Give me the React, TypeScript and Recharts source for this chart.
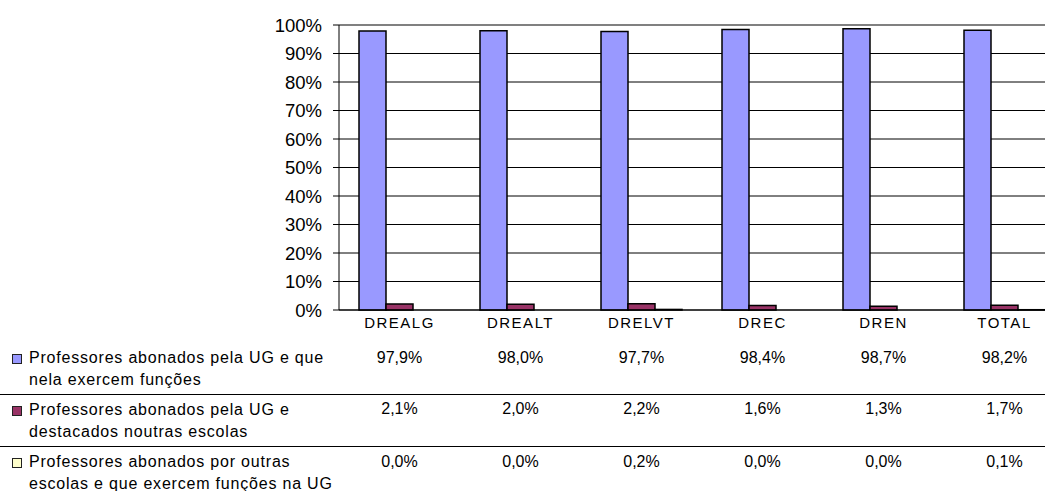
import { Bar, BarChart, CartesianGrid, ReferenceLine, XAxis, YAxis } from 'recharts';

const categories = ['DREALG', 'DREALT', 'DRELVT', 'DREC', 'DREN', 'TOTAL'];
const abonadosExercem = [97.9, 98.0, 97.7, 98.4, 98.7, 98.2];
const abonadosDestacados = [2.1, 2.0, 2.2, 1.6, 1.3, 1.7];
const abonadosOutras = [0.0, 0.0, 0.2, 0.0, 0.0, 0.1];
const yTicks = [0, 10, 20, 30, 40, 50, 60, 70, 80, 90, 100];

const seriesLabels = [
 'Professores abonados pela UG e que\nnela exercem funções',
 'Professores abonados pela UG e\ndestacados noutras escolas',
 'Professores abonados por outras\nescolas e que exercem funções na UG',
];
const seriesColors = ['#9999ff', '#993366', '#ffffcc'];
const seriesValues = [abonadosExercem, abonadosDestacados, abonadosOutras];

const data = categories.map((name, i) => ({
 name,
 exercem: abonadosExercem[i],
 destacados: abonadosDestacados[i],
 outras: abonadosOutras[i],
}));

const FONT = 'Arial, "Liberation Sans", sans-serif';
const ROW_OFFSETS = [47, 98, 151];

const fmt = (v: number) => v.toFixed(1).replace('.', ',') + '%';

function CategoryTick(props: any) {
 const { x, y, payload, index } = props;
 const idx = typeof payload?.index === 'number' ? payload.index : index;
 return (
 <g>
 <text x={x} y={y + 12} textAnchor="middle" dominantBaseline="central" fontSize={15} letterSpacing={1.5} fill="#000" fontFamily={FONT}>
 {payload.value}
 </text>
 {seriesValues.map((vals, s) => (
 <text key={s} x={x} y={y + ROW_OFFSETS[s]} textAnchor="middle" dominantBaseline="central" fontSize={16} fill="#000" fontFamily={FONT}>
 {fmt(vals[idx])}
 </text>
 ))}
 </g>
 );
}

export default function App() {
 return (
 <div style={{ position: 'absolute', left: 0, top: 0, width: 1045, height: 491, overflow: 'hidden', background: '#fff', fontFamily: FONT }}>
 <BarChart
 width={1100}
 height={491}
 data={data}
 margin={{ top: 25, right: 35, left: 0, bottom: 0 }}
 barCategoryGap={20}
 barGap={0}
 >
 <CartesianGrid horizontal vertical={false} stroke="#000" strokeWidth={1} />
 <ReferenceLine y={100} stroke="#808080" strokeWidth={2} />
 <XAxis
 dataKey="name"
 height={181}
 tickLine={false}
 tickSize={0}
 tickMargin={0}
 axisLine={{ stroke: '#000' }}
 interval={0}
 tick={<CategoryTick />}
 />
 <YAxis
 width={339}
 domain={[0, 100]}
 ticks={yTicks}
 tickFormatter={(v: number) => `${v}%`}
 tick={{ fill: '#000', fontSize: 18.5, fontFamily: FONT }}
 tickSize={6}
 tickMargin={11}
 axisLine={{ stroke: '#000' }}
 tickLine={{ stroke: '#000' }}
 interval={0}
 />
 <Bar dataKey="exercem" fill={seriesColors[0]} stroke="#000" strokeWidth={1.5} isAnimationActive={false} />
 <Bar dataKey="destacados" fill={seriesColors[1]} stroke="#000" strokeWidth={1.5} isAnimationActive={false} />
 <Bar dataKey="outras" fill={seriesColors[2]} stroke="#000" strokeWidth={1.5} isAnimationActive={false} />
 </BarChart>

 {seriesLabels.map((label, s) => (
 <div key={s}>
 <div
 style={{
 position: 'absolute',
 left: 12,
 top: 354 + s * 52,
 width: 8,
 height: 8,
 background: seriesColors[s],
 border: '1px solid #222',
 }}
 />
 <div
 style={{
 position: 'absolute',
 left: 29,
 top: 347 + s * 52,
 fontSize: 16,
 lineHeight: '22px',
 whiteSpace: 'pre-line',
 color: '#000',
 letterSpacing: 0.8,
 }}
 >
 {label}
 </div>
 </div>
 ))}
 {[394, 446].map((top) => (
 <div key={top} style={{ position: 'absolute', left: 0, top, width: 1045, height: 1, background: '#000' }} />
 ))}
 </div>
 );
}
